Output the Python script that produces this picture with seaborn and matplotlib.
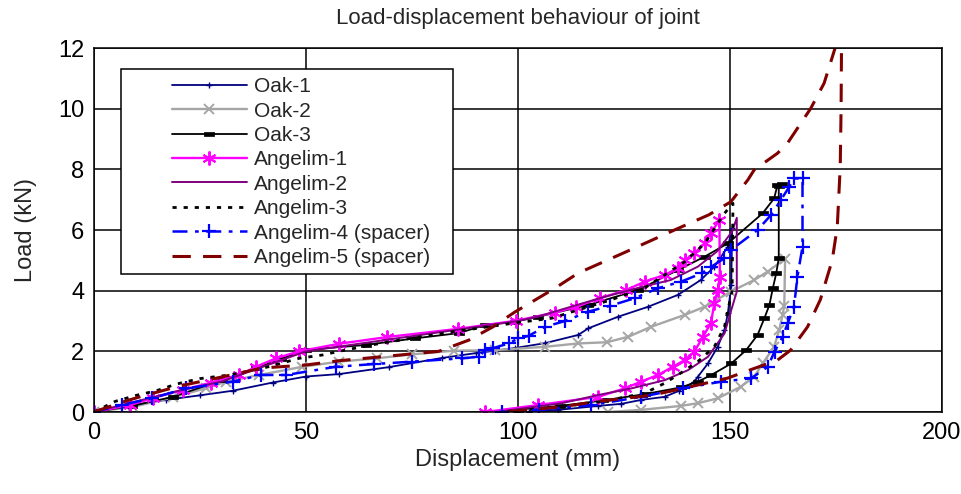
import matplotlib
matplotlib.use("Agg")
import matplotlib.pyplot as plt
from matplotlib.patches import Rectangle
from matplotlib.ticker import MultipleLocator
import seaborn as sns

# ---------------- data (displacement mm, load kN) ----------------
oak1_x = [0, 8, 17, 25, 32.7, 42.1, 50, 57.8, 69.6, 82, 90, 94.6, 99.3, 106.4, 114.2, 116.6,
          123.6, 130.7, 137.7, 143.1, 146.3, 149.5, 150.5,
          150.3, 149.5, 148.7, 147.1, 144.8, 142.4, 141.6, 138, 134.6, 129.1, 124.4, 118.9,
          109.5, 102.5, 100]
oak1_y = [0, 0.2, 0.4, 0.55, 0.7, 0.97, 1.17, 1.25, 1.48, 1.78, 1.94, 2.02, 2.11, 2.27, 2.54, 2.76,
          3.14, 3.47, 3.86, 4.35, 4.79, 5.45, 6.05,
          4.2, 3.26, 2.7, 2.15, 1.6, 1.16, 1.0, 0.7, 0.5, 0.4, 0.27, 0.2,
          0.07, 0.01, 0]

oak2_x = [0, 9.2, 18.6, 26.3, 31.2, 39, 49.1, 57.8, 66.7, 75, 84.8, 94.6, 106.4, 114.2, 121,
          126, 131.4, 139.3, 144, 150.2, 155.7, 158.9, 163,
          162.8, 162.4, 161.6, 160.4, 157.7, 155.7, 152.5, 147.1, 142.4, 138.4, 129, 121.3]
oak2_y = [0, 0.17, 0.48, 0.78, 1.0, 1.22, 1.49, 1.66, 1.77, 1.9, 2.02, 2.04, 2.15, 2.26, 2.3,
          2.48, 2.81, 3.2, 3.47, 3.97, 4.35, 4.63, 5.05,
          3.5, 3.2, 2.7, 2.15, 1.6, 1.16, 0.83, 0.45, 0.29, 0.2, 0.07, 0.0]

oak3_x = [0, 9, 18.6, 30.3, 38.2, 44, 50, 64.1, 75.8, 86, 92.3, 99.3, 104.8, 116.6, 128.3,
          137.7, 144, 149.5, 157.7, 160.4, 161.2, 162.3, 161.5,
          161.5, 160.9, 160.1, 159.3, 158.1, 156.5, 153.8, 150.3, 145.6, 142.4, 138.4, 129.9,
          120, 110, 100, 96]
oak3_y = [0, 0.2, 0.5, 1.05, 1.44, 1.75, 2.05, 2.21, 2.43, 2.6, 2.87, 2.98, 3.14, 3.53, 4.02,
          4.68, 5.12, 5.56, 6.55, 7.04, 7.48, 7.5, 7.45,
          5.07, 4.57, 4.08, 3.53, 3.09, 2.54, 2.04, 1.6, 1.22, 1.0, 0.81, 0.59,
          0.38, 0.2, 0.08, 0]

ang1_x = [0, 8.5, 13.9, 20.9, 27.7, 34.3, 38.2, 42.9, 48.4, 57.8, 69.1, 85.8, 99.6, 108.7,
          113.7, 119.3, 125.5, 129.9, 134.6, 137.7, 139.3, 141.6, 144, 145.5, 147.5,
          147.6, 147.1, 146.3, 145.5, 143.6, 141.6, 139.3, 136.5, 133, 129, 125.2, 118.9,
          104.8, 92.3]
ang1_y = [0, 0.23, 0.46, 0.73, 0.97, 1.22, 1.49, 1.77, 2.0, 2.25, 2.47, 2.74, 3.01, 3.28,
          3.47, 3.75, 4.02, 4.3, 4.52, 4.74, 5.0, 5.23, 5.56, 5.9, 6.33,
          4.46, 4.02, 3.58, 2.93, 2.48, 1.99, 1.71, 1.49, 1.22, 1.0, 0.78, 0.5,
          0.23, 0.0]

ang2_x = [0, 10, 20, 30, 40, 50, 60, 70, 80, 90, 100, 104.8, 112, 120.5, 128.3, 136, 142.4,
          147, 150.5, 151.6,
          151.6, 150.3, 148.7, 144.8, 140.1, 134.6, 126.8, 118.9, 110.3, 98.5, 95]
ang2_y = [0, 0.35, 0.7, 1.0, 1.5, 2.0, 2.2, 2.4, 2.6, 2.8, 3.0, 3.15, 3.45, 3.8, 4.09, 4.35, 4.79,
          5.3, 5.95, 6.4,
          3.97, 3.36, 2.59, 1.82, 1.38, 1.05, 0.78, 0.56, 0.29, 0.07, 0]

ang3_x = [0, 5, 10, 14.7, 19.4, 24.9, 32, 40, 48.4, 53.9, 57.8, 65, 74.3, 85, 93, 100, 107.9,
          115, 122, 130, 139.3, 144, 148.7, 150.7,
          150.5, 149.5, 148.7, 146.3, 142.4, 138, 134.6, 129.9, 120, 110, 100, 96]
ang3_y = [0, 0.35, 0.55, 0.7, 0.92, 1.1, 1.22, 1.45, 1.77, 1.88, 2.0, 2.2, 2.42, 2.65, 2.81, 2.95,
          3.09, 3.4, 3.7, 4.1, 4.95, 5.55, 6.55, 6.88,
          4.0, 3.36, 2.81, 2.15, 1.66, 1.25, 0.95, 0.62, 0.35, 0.17, 0.05, 0]

ang4_x = [0, 6.5, 13.6, 21.8, 32.7, 39.4, 45.3, 57, 66, 75, 86.8, 90.7, 92.3, 94, 97.8, 100.1,
          102.5, 106.4, 111.1, 116.6, 121.7, 127.5, 133, 138.5, 143.3, 145.6, 148.7, 150.3,
          156.5, 159.7, 162, 164, 165.1, 167.1,
          167.1, 165.9, 165.1, 163.6, 162.4, 160.5, 158.9, 155, 147.9, 138.9, 129.1, 117.3,
          105, 96.2]
ang4_y = [0, 0.23, 0.45, 0.78, 1.0, 1.22, 1.22, 1.49, 1.58, 1.66, 1.77, 1.82, 2.04, 2.1, 2.26,
          2.43, 2.51, 2.81, 3.0, 3.31, 3.5, 3.75, 4.08, 4.3, 4.57, 4.79, 5.07, 5.35,
          6.0, 6.5, 6.99, 7.43, 7.7, 7.7,
          5.45, 4.46, 3.47, 2.92, 2.48, 1.99, 1.49, 1.11, 1.0, 0.78, 0.5, 0.23,
          0.08, 0]

ang5_x = [0, 6.1, 10.8, 20, 30, 39.7, 50, 57.8, 70, 81.3, 88.4, 94, 99.3, 108.7, 114.2, 125,
          136.9, 145, 150.2, 154.2, 155.7, 161.2, 163.6, 169, 172.2, 174.9, 175.7,
          176.3, 176.2, 176, 175.3, 174.1, 171.3, 168.3, 164.3, 161.2, 155, 149.5, 138.4,
          131.4, 118.9, 110.2, 97]
ang5_y = [0, 0.3, 0.5, 0.85, 1.15, 1.45, 1.55, 1.69, 1.85, 2.0, 2.37, 2.8, 3.3, 4.08, 4.58, 5.25,
          6.0, 6.5, 6.93, 7.65, 7.98, 8.53, 8.87, 10.0, 10.84, 12.05, 12.1,
          12.1, 10.0, 8.09, 6.1, 5.0, 3.7, 2.81, 2.04, 1.71, 1.4, 1.12, 0.76,
          0.55, 0.35, 0.17, 0]

labels = ["Oak-1", "Oak-2", "Oak-3", "Angelim-1", "Angelim-2", "Angelim-3",
          "Angelim-4 (spacer)", "Angelim-5 (spacer)"]
x_ticks = [0, 50, 100, 150, 200]
y_ticks = [0, 2, 4, 6, 8, 10, 12]

# ---------------- figure ----------------
sns.set_style("white")
plt.rcParams["font.family"] = ["Liberation Sans", "DejaVu Sans"]

fig = plt.figure(figsize=(9.62, 4.94), dpi=100)
ax = fig.add_axes([94 / 962, 1 - 412 / 494, (942 - 94) / 962, (412 - 48) / 494])

bar_marker = [(-1, -0.5), (1, -0.5), (1, 0.5), (-1, 0.5), (-1, -0.5)]
styles = [
    (oak1_x, oak1_y, dict(color="#000080", lw=1.3, marker="+", markersize=5, mew=1.0,
                          mec="#000080")),
    (oak2_x, oak2_y, dict(color="#A6A6A6", lw=1.7, marker="x", markersize=6.5, mew=1.4,
                          mec="#A6A6A6")),
    (oak3_x, oak3_y, dict(color="black", lw=1.3, marker=bar_marker, markersize=7,
                          mec="black", mew=0.5)),
    (ang1_x, ang1_y, dict(color="#FF00FF", lw=1.7, marker=(6, 2, 0), markersize=10, mew=1.4,
                          mec="#FF00FF")),
    (ang2_x, ang2_y, dict(color="#800080", lw=1.4)),
    (ang3_x, ang3_y, dict(color="black", lw=2.0, linestyle=(0, (1.5, 2.5)))),
    (ang4_x, ang4_y, dict(color="#0000FF", lw=1.8, linestyle=(0, (6, 3, 1.5, 3)),
                          marker="+", markersize=10, mew=1.6, mec="#0000FF")),
    (ang5_x, ang5_y, dict(color="#800000", lw=2.2, linestyle=(0, (6, 4)))),
]

for (xs, ys, kw), lab in zip(styles, labels):
    sns.lineplot(x=xs, y=ys, sort=False, estimator=None, label=lab, ax=ax, **kw)

ax.set_xlim(0, 200)
ax.set_ylim(0, 12)
ax.set_xticks(x_ticks)
ax.set_yticks(y_ticks)
ax.xaxis.set_minor_locator(MultipleLocator(10))
ax.yaxis.set_minor_locator(MultipleLocator(0.4))
ax.tick_params(which="major", direction="in", length=0, labelsize=17, pad=7, colors="black")
ax.tick_params(which="minor", direction="in", length=4, width=1, color="black")
ax.grid(True, which="major", color="black", lw=1.1)
ax.set_axisbelow(True)
for sp in ax.spines.values():
    sp.set_color("black")
    sp.set_linewidth(1.1)

ax.set_xlabel("Displacement (mm)", fontsize=17, labelpad=4)
ax.set_ylabel("Load (kN)", fontsize=17, labelpad=15)
ax.set_title("Load-displacement behaviour of joint", fontsize=16, pad=17)

# legend box
rect = Rectangle((0.032, 0.379), 0.391, 0.563, transform=ax.transAxes,
                 facecolor="white", edgecolor="black", lw=1.1, zorder=8)
ax.add_patch(rect)
handles, labs = ax.get_legend_handles_labels()
leg = ax.legend(handles, labs, loc="upper left", bbox_to_anchor=(0.0916, 0.92),
                frameon=False, fontsize=15, handlelength=3.6, handletextpad=0.35,
                labelspacing=0.26, borderpad=0, borderaxespad=0)
leg.set_zorder(10)

fig.savefig("out.png", dpi=100)
